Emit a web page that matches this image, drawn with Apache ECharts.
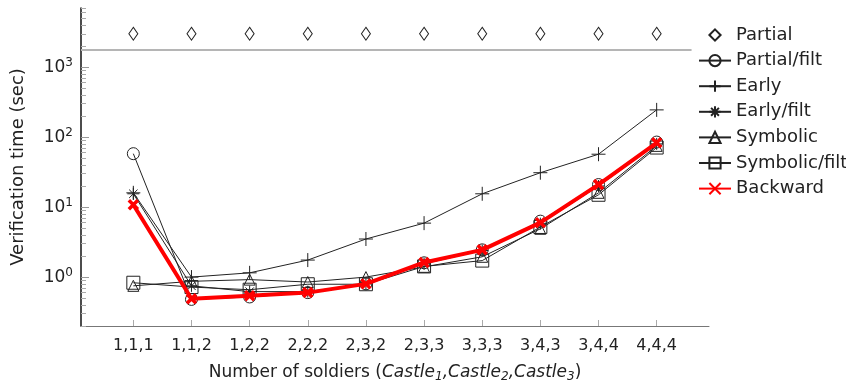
<!DOCTYPE html>
<html><head><meta charset="utf-8">
<script src="https://cdn.jsdelivr.net/npm/echarts@6/dist/echarts.min.js"></script>
<style>html,body{margin:0;padding:0;background:#fff}#c{width:846px;height:382px}</style>
</head><body><div id="c"></div>
<script>
const categories = ['1,1,1','1,1,2','1,2,2','2,2,2','2,3,2','2,3,3','3,3,3','3,4,3','3,4,4','4,4,4'];
const partial      = [3000,3000,3000,3000,3000,3000,3000,3000,3000,3000];
const partialFilt  = [58,0.48,0.52,0.6,0.8,1.6,2.45,6.3,21,85];
const early        = [16,1.0,1.15,1.75,3.5,5.9,15.5,31,57,245];
const earlyFilt    = [15.5,0.75,0.62,0.62,0.8,1.55,2.4,5.8,20,80];
const symbolic     = [0.75,0.87,0.92,0.85,1.0,1.4,1.95,4.9,16,75];
const symbolicFilt = [0.83,0.72,0.66,0.79,0.79,1.42,1.72,5.2,15,71];
const backward     = [10.8,0.49,0.54,0.6,0.8,1.62,2.45,6.0,21,83];
const timeoutLine  = 1800;
const majorTicks = [1,10,100,1000];
const minorTicks = [0.2,0.3,0.4,0.5,0.6,0.7,0.8,0.9,2,3,4,5,6,7,8,9,20,30,40,50,60,70,80,90,200,300,400,500,600,700,800,900,2000,3000,4000,5000,6000,7000];

const FONT = 'DejaVu Sans';
const pts = arr => arr.map((v,i)=>[i,v]);
const idx = categories.map((c,i)=>i);

const plusPath = 'path://M0,5L10,5M5,0L5,10';
const starPath = 'path://M0,5L10,5M5,0L5,10M1.5,1.5L8.5,8.5M8.5,1.5L1.5,8.5';
const xPath = 'path://M0,0L10,10M10,0L0,10';

function blackLine(name, data, symbol, size){
  return {
    name, type:'line', data: pts(data), symbol, symbolSize: size,
    lineStyle:{color:'#222', width:1},
    itemStyle:{color:'rgba(0,0,0,0)', borderColor:'#222', borderWidth:1},
    emphasis:{disabled:true}, z:3
  };
}

const chart = echarts.init(document.getElementById('c'));
chart.setOption({
  animation:false,
  textStyle:{fontFamily:FONT},
  grid:{left:81,right:137,top:8,bottom:56, containLabel:false, outerBoundsMode:'none'},
  legend:{
    orient:'vertical', left:698, top:26, padding:0, itemWidth:32, itemHeight:14, itemGap:7.6,
    textStyle:{fontFamily:FONT, fontSize:18, color:'#222'},
    data:['Partial','Partial/filt','Early','Early/filt','Symbolic','Symbolic/filt','Backward']
  },
  xAxis:{
    type:'value', min:-0.9, max:9.9,
    name:'Number of soldiers ({it|Castle}{sub|1}{it|,Castle}{sub|2}{it|,Castle}{sub|3})',
    nameLocation:'middle', nameGap:37,
    nameTextStyle:{fontFamily:FONT, fontSize:17, color:'#222',
      rich:{it:{fontFamily:FONT, fontSize:17, fontStyle:'italic', color:'#222'},
            sub:{fontFamily:FONT, fontSize:12, fontStyle:'italic', color:'#222', padding:[8,0,0,0]}}},
    axisLine:{onZero:false, lineStyle:{color:'#777', width:1}},
    axisTick:{show:true, inside:true, length:6, lineStyle:{color:'#aaa'}, customValues:idx},
    axisLabel:{customValues:idx, formatter:v=>categories[Math.round(v)], fontSize:16, color:'#222', margin:12},
    splitLine:{show:false}
  },
  yAxis:[{
    type:'log', min:0.2, max:7000, logBase:10,
    name:'Verification time (sec)', nameLocation:'middle', nameGap:54,
    nameTextStyle:{fontFamily:FONT, fontSize:18, color:'#222'},
    axisLine:{show:true, onZero:false, lineStyle:{color:'#111', width:1.5}},
    axisTick:{show:true, inside:true, length:8, lineStyle:{color:'#999'}, customValues:majorTicks},
    axisLabel:{customValues:majorTicks, margin:8,
      formatter:v=>'{b|10}{s|'+Math.round(Math.log10(v))+'}',
      rich:{b:{fontFamily:FONT, fontSize:17, color:'#222'}, s:{fontFamily:FONT, fontSize:12, color:'#222', padding:[0,0,9,0]}}},
    splitLine:{show:false}
  },{
    type:'log', min:0.2, max:7000, logBase:10, position:'left',
    axisLine:{show:false, onZero:false},
    axisTick:{show:true, inside:true, length:5, lineStyle:{color:'#aaa'}, customValues:minorTicks},
    axisLabel:{show:false}, splitLine:{show:false}
  }],
  series:[
    {name:'Partial', type:'line', data:pts(partial), symbol:'diamond', symbolSize:[9,13],
     lineStyle:{width:0, opacity:0},
     itemStyle:{color:'rgba(0,0,0,0)', borderColor:'#222', borderWidth:1}, emphasis:{disabled:true}, z:3,
     markLine:{silent:true, symbol:'none', label:{show:false},
       lineStyle:{color:'#b5b5b5', width:2, type:'solid', opacity:1},
       data:[[{coord:[-0.9,timeoutLine]},{coord:[9.6,timeoutLine]}]]}},
    blackLine('Partial/filt', partialFilt, 'circle', 12),
    blackLine('Early', early, plusPath, 14),
    blackLine('Early/filt', earlyFilt, starPath, 12),
    blackLine('Symbolic', symbolic, 'triangle', 11),
    blackLine('Symbolic/filt', symbolicFilt, 'rect', 13),
    {name:'Backward', type:'line', data:pts(backward), symbol:xPath, symbolSize:9,
     lineStyle:{color:'#ff0000', width:4},
     itemStyle:{color:'#ff0000', borderColor:'#ff0000', borderWidth:3.5},
     emphasis:{disabled:true}, z:5}
  ]
});
</script></body></html>
